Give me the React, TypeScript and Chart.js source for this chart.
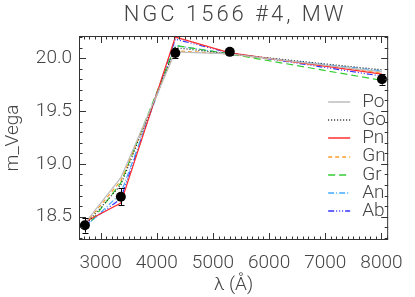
import React, { useEffect, useRef } from "react";
import { Chart, registerables } from "chart.js";

Chart.register(...registerables);

const titleText = "NGC 1566 #4, MW";
const xTitle = "λ (Å)";
const yTitle = "m_Vega";

const lambda = [2720, 3360, 4330, 5300, 8010];
const observed = [18.42, 18.69, 20.05, 20.06, 19.8];
const observedErr = [0.07, 0.08, 0.05, 0.03, 0.05];

const modelPo = [18.44, 18.87, 20.06, 20.04, 19.87];
const modelGo = [18.42, 18.8, 20.1, 20.04, 19.89];
const modelPn = [18.45, 18.63, 20.2, 20.05, 19.85];
const modelGn = [18.43, 18.84, 20.07, 20.04, 19.86];
const modelGr = [18.38, 18.82, 20.12, 20.04, 19.79];
const modelAn = [18.4, 18.72, 20.12, 20.04, 19.88];
const modelAb = [18.42, 18.67, 20.18, 20.05, 19.83];

const modelNames = ["Po", "Go", "Pn", "Gn", "Gr", "An", "Ab"];
const modelValues = [modelPo, modelGo, modelPn, modelGn, modelGr, modelAn, modelAb];
const modelColors = ["#bdbdbd", "#222222", "#ff3030", "#ff9f30", "#33cc33", "#44aaff", "#3333ff"];
const modelDashes = [[], [1, 2], [], [4, 3], [7, 4], [6, 2, 1, 2], [6, 2, 1, 2, 1, 2, 1, 2]];

const xTicks = [3000, 4000, 5000, 6000, 7000, 8000];
const yTicks = [18.5, 19.0, 19.5, 20.0];
const xRange = [2615, 8120];
const yRange = [18.28, 20.21];

const FONT = "Roboto, 'DejaVu Sans', sans-serif";
const TEXT = "#444";

const framePlugin = {
  id: "frameTicks",
  afterDraw(chart: any) {
    const { ctx, chartArea: a, scales } = chart;
    const xs = scales.x;
    const ys = scales.y;
    ctx.save();
    ctx.strokeStyle = "#333";
    ctx.lineWidth = 1;
    ctx.strokeRect(a.left + 0.5, a.top + 0.5, a.right - a.left - 1, a.bottom - a.top - 1);
    ctx.beginPath();
    for (let i = Math.ceil(xs.min / 100); i <= Math.floor(xs.max / 100); i++) {
      const v = i * 100;
      const px = Math.round(xs.getPixelForValue(v)) + 0.5;
      const len = v % 1000 === 0 ? 7 : 3.5;
      ctx.moveTo(px, a.bottom);
      ctx.lineTo(px, a.bottom - len);
      ctx.moveTo(px, a.top);
      ctx.lineTo(px, a.top + len);
    }
    for (let i = Math.ceil(ys.min / 0.1 - 1e-6); i <= Math.floor(ys.max / 0.1 + 1e-6); i++) {
      const v = i * 0.1;
      const py = Math.round(ys.getPixelForValue(v)) + 0.5;
      const major = Math.abs(v * 2 - Math.round(v * 2)) < 1e-6;
      const len = major ? 7 : 3.5;
      ctx.moveTo(a.left, py);
      ctx.lineTo(a.left + len, py);
      ctx.moveTo(a.right, py);
      ctx.lineTo(a.right - len, py);
    }
    ctx.stroke();

    // title
    ctx.fillStyle = TEXT;
    ctx.font = `300 22px ${FONT}`;
    (ctx as any).letterSpacing = "3px";
    ctx.textAlign = "center";
    ctx.textBaseline = "middle";
    ctx.fillText(titleText, (a.left + a.right) / 2 + 1.5, 15);
    (ctx as any).letterSpacing = "0px";

    // legend
    ctx.font = `300 19px ${FONT}`;
    ctx.textAlign = "left";
    modelNames.forEach((name, i) => {
      const y = a.top + 66 + i * 18.2;
      ctx.strokeStyle = modelColors[i];
      ctx.lineWidth = 1.5;
      ctx.setLineDash(modelDashes[i]);
      ctx.beginPath();
      ctx.moveTo(a.right - 60, Math.round(y));
      ctx.lineTo(a.right - 38, Math.round(y));
      ctx.stroke();
      ctx.setLineDash([]);
      ctx.fillStyle = TEXT;
      ctx.fillText(name, a.right - 26, y);
    });
    ctx.restore();
  },
};

const errorBarPlugin = {
  id: "errorBars",
  afterDatasetsDraw(chart: any) {
    const { ctx, scales } = chart;
    ctx.save();
    ctx.strokeStyle = "#000";
    ctx.lineWidth = 1;
    ctx.beginPath();
    lambda.forEach((x, i) => {
      const px = Math.round(scales.x.getPixelForValue(x)) + 0.5;
      const top = scales.y.getPixelForValue(observed[i] + observedErr[i]);
      const bot = scales.y.getPixelForValue(observed[i] - observedErr[i]);
      ctx.moveTo(px, top);
      ctx.lineTo(px, bot);
      ctx.moveTo(px - 3, Math.round(top) + 0.5);
      ctx.lineTo(px + 3, Math.round(top) + 0.5);
      ctx.moveTo(px - 3, Math.round(bot) + 0.5);
      ctx.lineTo(px + 3, Math.round(bot) + 0.5);
    });
    ctx.stroke();
    ctx.restore();
  },
};

export default function App() {
  const ref = useRef<HTMLCanvasElement | null>(null);
  useEffect(() => {
    document.body.style.margin = "0";
    const canvas = ref.current;
    if (!canvas) return;
    const datasets: any[] = [
      {
        label: "obs",
        data: lambda.map((x, i) => ({ x, y: observed[i] })),
        showLine: false,
        pointRadius: 5,
        pointBackgroundColor: "#000",
        pointBorderColor: "#000",
        pointBorderWidth: 0,
      },
      ...modelNames.map((name, k) => ({
        label: name,
        data: lambda.map((x, i) => ({ x, y: modelValues[k][i] })),
        showLine: true,
        borderColor: modelColors[k],
        borderDash: modelDashes[k],
        borderWidth: 1.2,
        pointRadius: 0,
        fill: false,
      })),
    ];
    const tickFont = { family: FONT, size: 19, weight: "300" as any };
    const chart = new Chart(canvas, {
      type: "scatter",
      data: { datasets },
      plugins: [errorBarPlugin, framePlugin],
      options: {
        animation: false,
        responsive: false,
        devicePixelRatio: 1,
        layout: { padding: { top: 36, right: 23, left: 0, bottom: 0 } },
        plugins: { legend: { display: false }, tooltip: { enabled: false }, title: { display: false } },
        scales: {
          x: {
            type: "linear",
            min: xRange[0],
            max: xRange[1],
            grid: { display: false, drawTicks: false },
            border: { display: false },
            afterBuildTicks: (s: any) => {
              s.ticks = xTicks.map((v) => ({ value: v }));
            },
            afterFit: (s: any) => {
              s.height = 57;
            },
            ticks: {
              padding: 12,
              maxRotation: 0,
              autoSkip: false,
              color: TEXT,
              font: tickFont,
              callback: (v: any) => String(v),
            },
            title: {
              display: true,
              text: xTitle,
              color: TEXT,
              font: tickFont,
              padding: { top: 0, bottom: 0 },
            },
          },
          y: {
            type: "linear",
            min: yRange[0],
            max: yRange[1],
            grid: { display: false, drawTicks: false },
            border: { display: false },
            afterBuildTicks: (s: any) => {
              s.ticks = yTicks.map((v) => ({ value: v }));
            },
            afterFit: (s: any) => {
              s.width = 79;
            },
            ticks: {
              padding: 7,
              color: TEXT,
              font: tickFont,
              callback: (v: any) => Number(v).toFixed(1),
            },
            title: {
              display: true,
              text: yTitle,
              color: TEXT,
              font: tickFont,
              padding: { top: 2, bottom: 0 },
            },
          },
        },
      },
    });
    return () => chart.destroy();
  }, []);
  return (
    <div style={{ position: "absolute", left: 0, top: 0, width: 415, height: 297 }}>
      <canvas ref={ref} width={415} height={297} />
    </div>
  );
}
